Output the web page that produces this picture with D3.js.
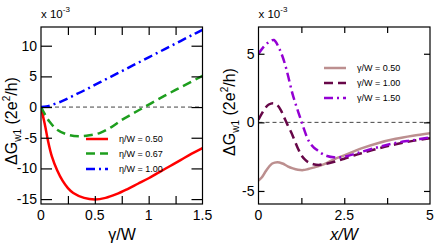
<!DOCTYPE html>
<html><head><meta charset="utf-8">
<script src="https://cdn.jsdelivr.net/npm/d3@7"></script>
<style>body{margin:0;background:#fff}svg{display:block}</style>
</head><body><svg id="c" width="436" height="245"></svg>
<script>
// ---------- data ----------
const leftXTicks = [0, 0.5, 1, 1.5];
const leftYTicks = [-15, -10, -5, 0, 5, 10];
const rightXTicks = [0, 2.5, 5];
const rightYTicks = [-5, 0, 5];
const leftLabels = ["η/W = 0.50", "η/W = 0.67", "η/W = 1.00"];
const rightLabels = ["γ/W = 0.50", "γ/W = 1.00", "γ/W = 1.50"];
// left panel: gamma/W vs dG (x1e-3)
const red = [[0,0],[0.02,-1.6],[0.04,-3.2],[0.065,-5.5],[0.1,-8.0],[0.15,-10.3],[0.2,-12.0],[0.25,-13.2],[0.3,-14.0],[0.4,-14.8],[0.5,-15.05],[0.6,-14.8],[0.7,-14.2],[0.8,-13.4],[0.9,-12.5],[1.0,-11.6],[1.1,-10.6],[1.2,-9.6],[1.3,-8.6],[1.4,-7.6],[1.5,-6.7]];
const green = [[0,0],[0.04,-1.3],[0.08,-2.4],[0.15,-3.7],[0.25,-4.5],[0.35,-4.75],[0.45,-4.6],[0.55,-4.2],[0.65,-3.3],[0.75,-2.1],[0.85,-1.1],[0.95,-0.1],[1.05,0.9],[1.15,1.85],[1.25,2.8],[1.35,3.7],[1.5,5.1]];
const blue = [[0,0],[0.05,0.1],[0.1,0.35],[0.2,1.0],[0.3,1.85],[0.4,2.7],[0.5,3.6],[0.6,4.5],[0.7,5.4],[0.8,6.3],[0.9,7.2],[1.0,8.1],[1.1,9.0],[1.2,9.9],[1.3,10.8],[1.4,11.7],[1.5,12.6]];
// right panel: x/W vs dG (x1e-3)
const pink = [[0,-4.25],[0.1,-4.0],[0.2,-3.6],[0.3,-3.25],[0.4,-3.0],[0.55,-2.9],[0.7,-3.0],[0.85,-3.2],[1.0,-3.35],[1.15,-3.45],[1.3,-3.48],[1.45,-3.4],[1.6,-3.3],[1.8,-3.15],[2.0,-2.95],[2.2,-2.7],[2.5,-2.4],[2.8,-2.1],[3.0,-1.9],[3.5,-1.5],[4.0,-1.2],[4.5,-0.98],[5.0,-0.8]];
const maroon = [[0,0.2],[0.1,0.65],[0.2,1.05],[0.3,1.3],[0.43,1.4],[0.55,1.25],[0.65,0.9],[0.75,0.35],[0.85,-0.2],[0.95,-0.7],[1.05,-1.3],[1.15,-1.9],[1.25,-2.4],[1.35,-2.7],[1.45,-2.9],[1.6,-3.05],[1.75,-3.1],[1.9,-3.05],[2.1,-2.95],[2.3,-2.8],[2.5,-2.65],[2.8,-2.4],[3.0,-2.25],[3.5,-1.9],[4.0,-1.6],[4.5,-1.35],[5.0,-1.15]];
const violet = [[0,5.0],[0.15,5.5],[0.3,5.85],[0.45,6.0],[0.6,5.4],[0.7,4.8],[0.8,4.0],[0.9,3.0],[1.0,2.0],[1.1,1.2],[1.2,0.45],[1.3,-0.3],[1.4,-1.0],[1.5,-1.5],[1.6,-1.8],[1.7,-2.0],[1.8,-2.2],[1.9,-2.35],[2.0,-2.45],[2.2,-2.55],[2.4,-2.55],[2.6,-2.45],[2.8,-2.3],[3.0,-2.15],[3.5,-1.8],[4.0,-1.5],[4.5,-1.3],[5.0,-1.1]];

const svg = d3.select("#c");
const FONT = "Liberation Sans, Arial, sans-serif";

function txt(sel) { return sel.append("text").style("font-family", FONT).attr("fill", "#000"); }

function panel(o) {
  const x = d3.scaleLinear().domain(o.xd).range([o.x0, o.x1]);
  const y = d3.scaleLinear().domain(o.yd).range([o.y1, o.y0]);
  const g = svg.append("g");
  const clipId = "clip" + o.id;
  svg.append("clipPath").attr("id", clipId).append("rect")
    .attr("x", o.x0).attr("y", o.y0).attr("width", o.x1 - o.x0).attr("height", o.y1 - o.y0);
  g.append("line").attr("x1", o.x0).attr("x2", o.x1).attr("y1", y(0)).attr("y2", y(0))
    .attr("stroke", "#444").attr("stroke-width", 1).attr("stroke-dasharray", "4,3");
  const line = d3.line().x(d => x(d[0])).y(d => y(d[1])).curve(d3.curveCatmullRom.alpha(0.5));
  o.series.forEach(s => {
    g.append("path").attr("d", line(s.data)).attr("fill", "none").attr("stroke", s.color)
      .attr("stroke-width", 2.5).attr("stroke-dasharray", s.dash || null)
      .attr("clip-path", `url(#${clipId})`);
  });
  const ax = (gen, tx, ty) => g.append("g").attr("transform", `translate(${tx},${ty})`).call(gen)
    .call(a => { a.select(".domain").remove(); a.selectAll("line").attr("stroke", "#000").attr("stroke-width", 1.2); a.selectAll("text").remove(); });
  ax(d3.axisBottom(x).tickValues(o.xMinor).tickSize(-o.xt), 0, o.y1);
  ax(d3.axisTop(x).tickValues(o.xMinor).tickSize(-o.xt), 0, o.y0);
  ax(d3.axisLeft(y).tickValues(o.yTicks).tickSize(-o.yt), o.x0, 0);
  ax(d3.axisRight(y).tickValues(o.yTicks).tickSize(-o.yt), o.x1, 0);
  g.append("rect").attr("x", o.x0).attr("y", o.y0).attr("width", o.x1 - o.x0).attr("height", o.y1 - o.y0)
    .attr("fill", "none").attr("stroke", "#000").attr("stroke-width", 1.2);
  o.xTicks.forEach(t => txt(g).attr("x", x(t)).attr("y", 220).attr("text-anchor", "middle")
    .attr("font-size", 14).text(t));
  o.yTicks.forEach(t => txt(g).attr("x", o.x0 - 4).attr("y", y(t) + 5).attr("text-anchor", "end")
    .attr("font-size", 14).text(t));
  const e = txt(g).attr("x", o.x0).attr("y", 18).attr("font-size", 11.5);
  e.append("tspan").text("x 10");
  e.append("tspan").attr("dy", -6).attr("font-size", 8).text("-3");
  const yt = txt(g).attr("transform", `translate(${o.ytx},${o.yty}) rotate(-90)`)
    .attr("text-anchor", "middle").attr("font-size", 16);
  yt.append("tspan").text("ΔG");
  yt.append("tspan").attr("dy", 4).attr("font-size", 10).text("w1");
  yt.append("tspan").attr("dy", -4).text(" (2e");
  yt.append("tspan").attr("dy", -7).attr("font-size", 10).text("2");
  yt.append("tspan").attr("dy", 7).text("/h)");
  const xt = txt(g).attr("x", o.xtx).attr("y", 240).attr("text-anchor", "middle").attr("font-size", 16);
  if (o.italic) xt.attr("font-style", "italic");
  xt.text(o.xTitle);
  o.series.forEach((s, i) => {
    const ly = o.legY[i];
    g.append("line").attr("x1", o.legX).attr("x2", o.legX + 22).attr("y1", ly).attr("y2", ly)
      .attr("stroke", s.color).attr("stroke-width", 2.5).attr("stroke-dasharray", s.dash || null);
    txt(g).attr("x", o.legX + 33).attr("y", ly + 3.2).attr("font-size", 9).text(s.label);
  });
}

panel({ id: "L", xd: [0, 1.5], yd: [-15.8, 13.05], x0: 41, x1: 202.5, y0: 27, y1: 204,
  xTicks: leftXTicks, xMinor: [0.25, 0.5, 0.75, 1, 1.25], yTicks: leftYTicks, xt: 8, yt: 11,
  ytx: 17, yty: 121, xtx: 122, xTitle: "γ/W", italic: false, legX: 86, legY: [139, 153.5, 169],
  series: [
    { data: red, color: "#ff0000", label: leftLabels[0] },
    { data: green, color: "#1e9e1e", dash: "9,5", label: leftLabels[1] },
    { data: blue, color: "#0000ff", dash: "9,4,2,4", label: leftLabels[2] }
  ] });

panel({ id: "R", xd: [0, 5], yd: [-5.95, 6.95], x0: 258.5, x1: 430, y0: 27, y1: 204,
  xTicks: rightXTicks, xMinor: [1.25, 2.5, 3.75], yTicks: rightYTicks, xt: 6, yt: 6,
  ytx: 235, yty: 112, xtx: 344, xTitle: "x/W", italic: true, legX: 324, legY: [68, 83, 98],
  series: [
    { data: pink, color: "#bc8f8f", label: rightLabels[0] },
    { data: maroon, color: "#670748", dash: "9,5", label: rightLabels[1] },
    { data: violet, color: "#9400d3", dash: "9,4,2,4", label: rightLabels[2] }
  ] });
</script></body></html>
